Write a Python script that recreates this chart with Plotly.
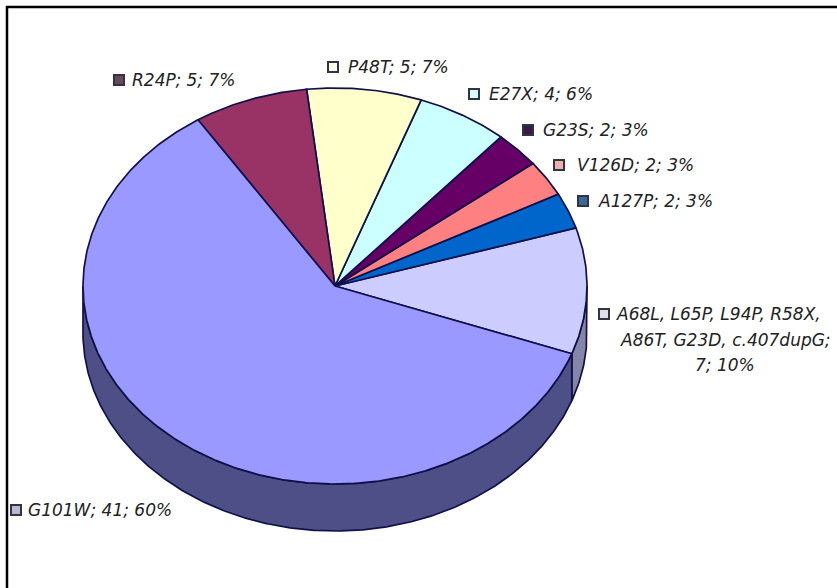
import numpy as np
import plotly.graph_objects as go

# --- data ---
categories = ["A68L, L65P, L94P, R58X, A86T, G23D, c.407dupG", "A127P", "V126D", "G23S",
              "E27X", "P48T", "R24P", "G101W"]
values = [7, 2, 2, 2, 4, 5, 5, 41]
percents = [10, 3, 3, 3, 6, 7, 7, 60]
colors = ["#ccccff", "#0066cc", "#ff8080", "#660066", "#ccffff", "#ffffcc", "#993366", "#9999ff"]
side_colors = ["#8585a8", "#0066cc", "#ff8080", "#660066", "#ccffff", "#ffffcc", "#993366", "#4f4f88"]
marker_fill = ["#e0e0e8", "#3a6a9a", "#f0b0b0", "#3a1a4a", "#d8ffff", "#fffff0", "#6a4a5a", "#b8b8d0"]

# --- geometry of the tilted pie, in page pixels ---
W, H = 837, 588
CX, CY, RX, RY, DEPTH = 335, 286, 252, 198, 47
START_DEG = -20
OUT = "#10104a"
FONT = dict(family="DejaVu Sans", size=17, color="#222222", style="italic")

fig = go.Figure()


def arc(a0, a1):
    t = np.radians(np.linspace(a0, a1, max(int(abs(a1 - a0) * 2), 2)))
    return CX + RX * np.cos(t), CY - RY * np.sin(t)


edges = START_DEG + np.cumsum([0] + values) / sum(values) * 360

# side wall: only the part of each slice's rim that faces the viewer
for i in range(len(values)):
    a0, a1 = edges[i], edges[i + 1]
    parts = [(a0, min(a1, 0)), (max(a0, 180), min(a1, 360))]
    for lo, hi in parts:
        if hi > lo:
            x, y = arc(lo, hi)
            fig.add_trace(go.Scatter(
                x=np.r_[x, x[::-1], x[0]], y=np.r_[y, y[::-1] + DEPTH, y[0]],
                mode="lines", fill="toself", fillcolor=side_colors[i],
                line=dict(color=OUT, width=1.7), hoverinfo="skip", showlegend=False))

# top face
for i, name in enumerate(categories):
    x, y = arc(edges[i], edges[i + 1])
    fig.add_trace(go.Scatter(
        x=np.r_[CX, x, CX], y=np.r_[CY, y, CY],
        mode="lines", fill="toself", fillcolor=colors[i],
        line=dict(color=OUT, width=1.7), name=name, showlegend=False))

# labels: key square, then text starting at its own x
key_pos = [(604, 314), (583, 201), (559, 165), (528, 130), (474, 94), (333, 67), (119, 80), (16, 510)]
text_x = [617, 599, 577, 543, 489, 348, 132, 28]
label_txt = ["A68L, L65P, L94P, R58X,"] + [
    f"{categories[i]}; {values[i]}; {percents[i]}%" for i in range(1, 8)]

fig.add_trace(go.Scatter(
    x=[p[0] for p in key_pos], y=[p[1] for p in key_pos], mode="markers",
    marker=dict(symbol="square", size=10, color=marker_fill, line=dict(color="#333344", width=2)),
    hoverinfo="skip", showlegend=False))
fig.add_trace(go.Scatter(
    x=text_x, y=[p[1] + 1.5 for p in key_pos], mode="text", text=label_txt,
    textposition="middle right", textfont=FONT, hoverinfo="skip", showlegend=False))

# remaining lines of the wrapped label
fig.add_annotation(x=725, y=340, text="A86T, G23D, c.407dupG;", showarrow=False, font=FONT)
fig.add_annotation(x=725, y=365, text=f"{values[0]}; {percents[0]}%", showarrow=False, font=FONT)

# outer frame: left and top edges only
fig.add_shape(type="line", x0=7, x1=7, y0=6, y1=H, line=dict(color="black", width=2.5))
fig.add_shape(type="line", x0=6, x1=W, y0=7, y1=7, line=dict(color="black", width=2.5))

fig.update_layout(
    width=W, height=H, margin=dict(l=0, r=0, t=0, b=0),
    paper_bgcolor="white", plot_bgcolor="white", showlegend=False,
    xaxis=dict(range=[0, W], visible=False, fixedrange=True),
    yaxis=dict(range=[H, 0], visible=False, fixedrange=True),
)
fig.write_html("out.html", config=dict(displayModeBar=False),
               post_script="document.body.style.margin='0';document.body.style.overflow='hidden';")
